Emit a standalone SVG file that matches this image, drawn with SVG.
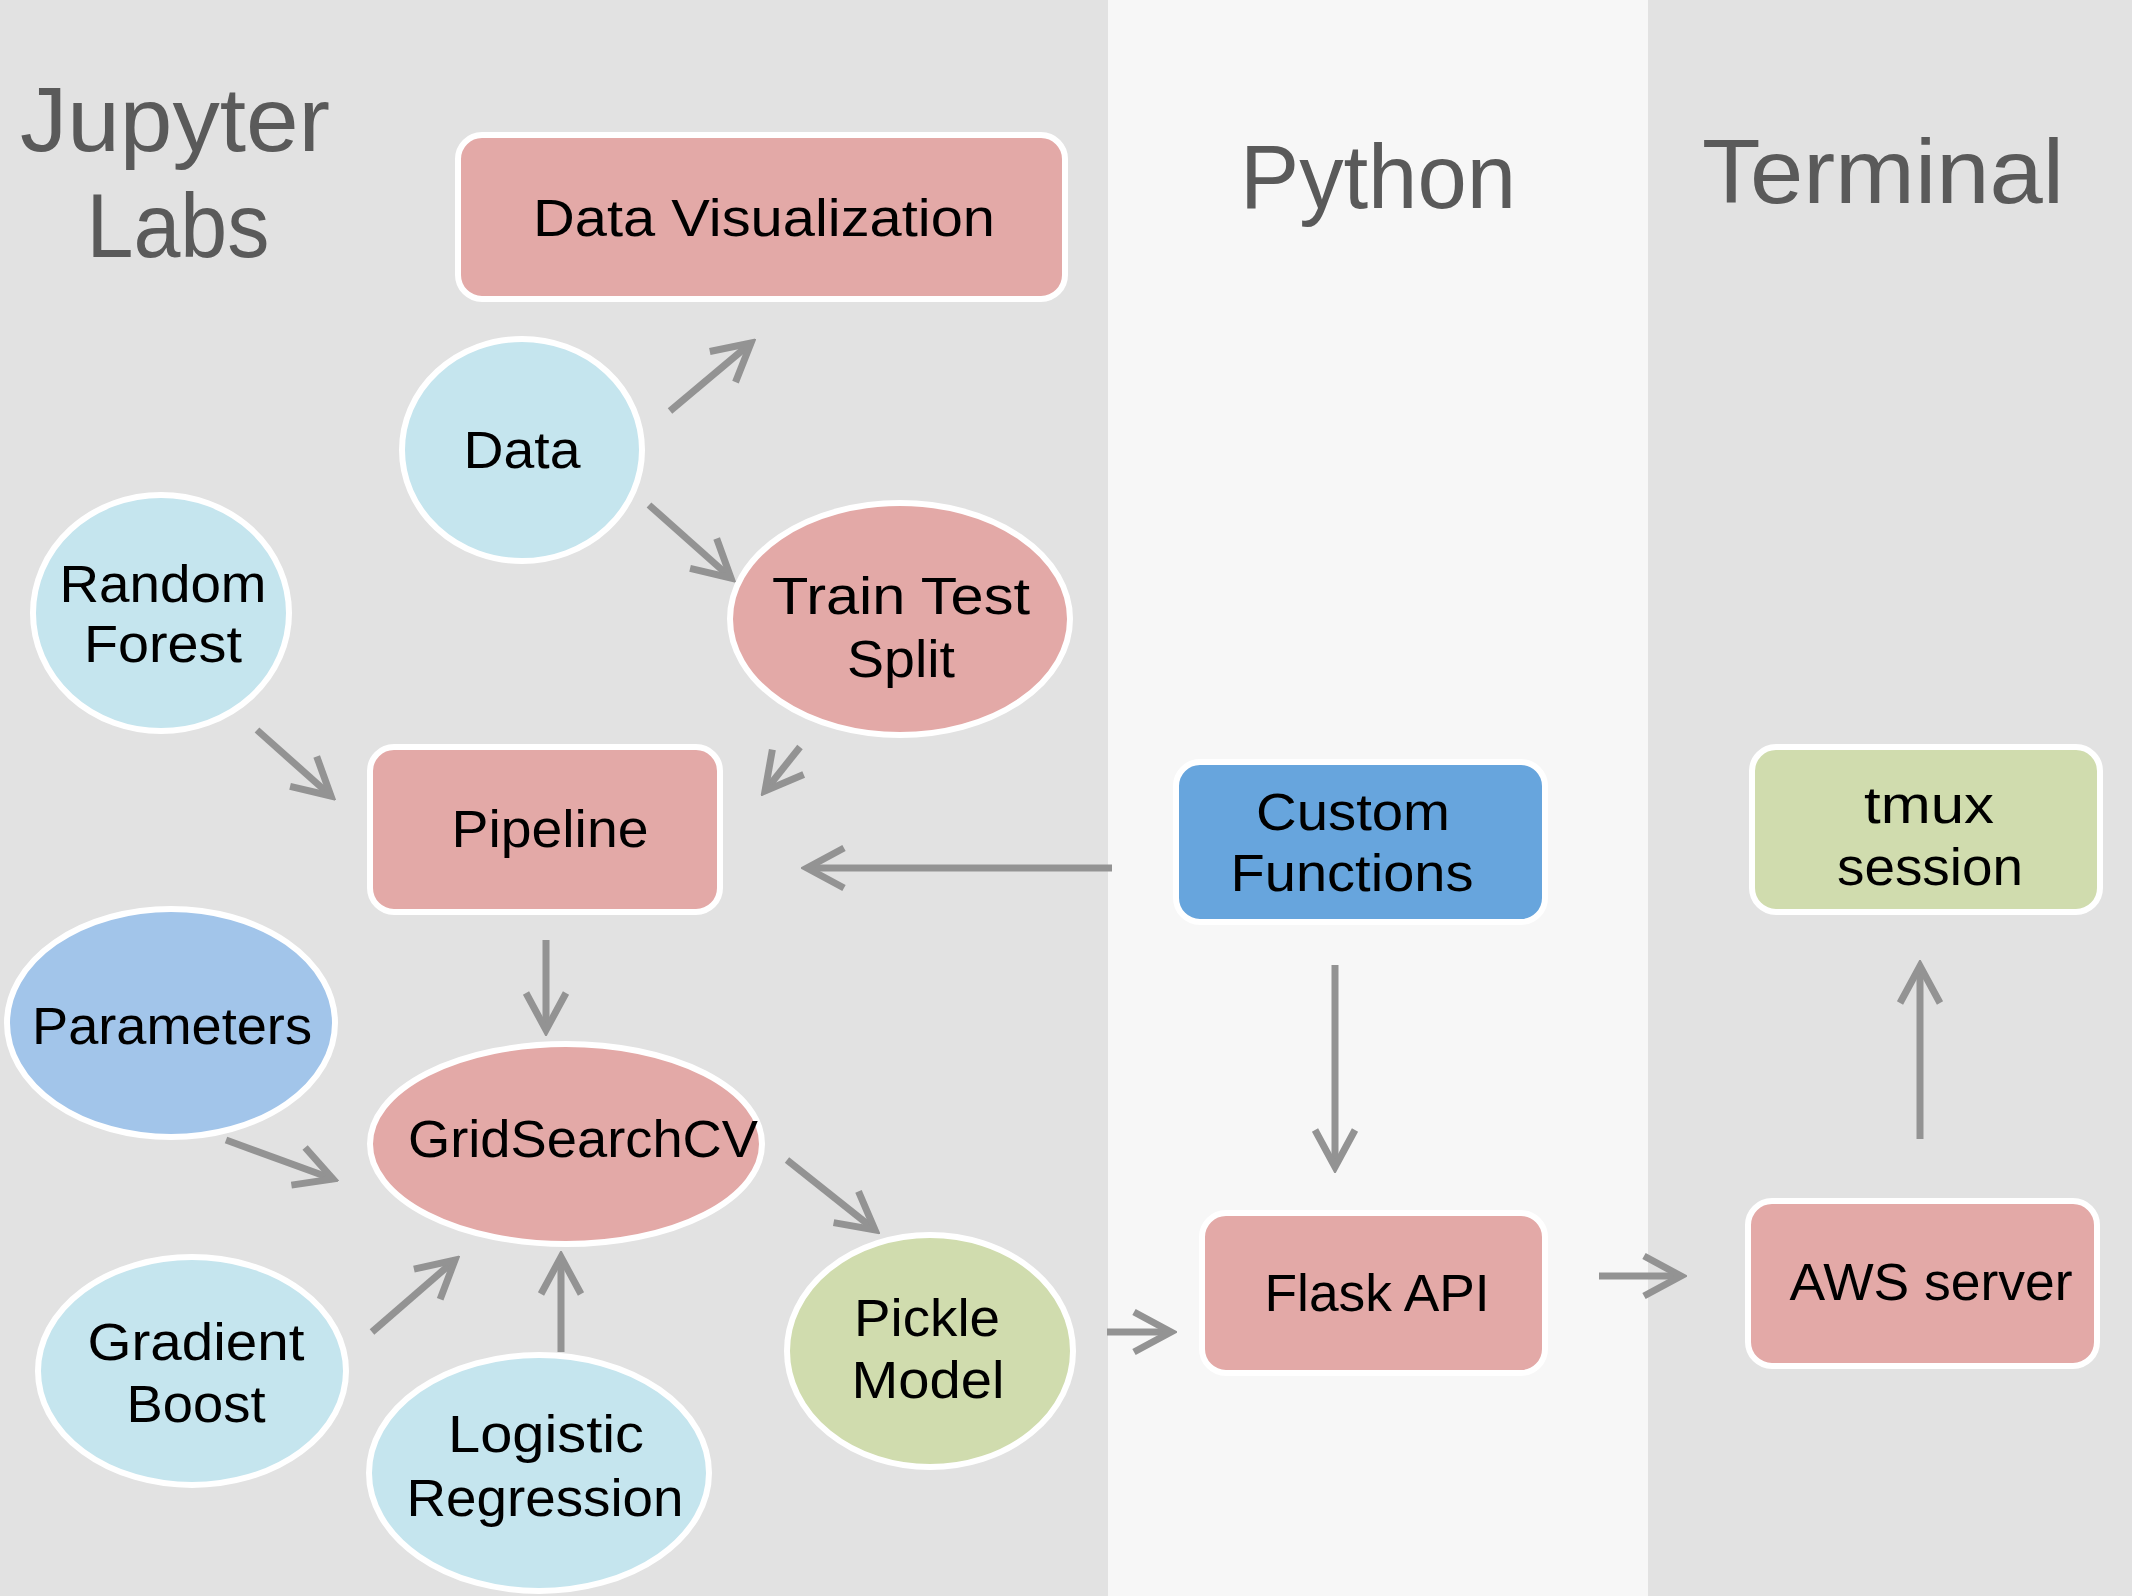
<svg xmlns="http://www.w3.org/2000/svg" width="2132" height="1596" viewBox="0 0 2132 1596">
<style>
.lbl{font-family:"Liberation Sans","Open Sans",Arial,sans-serif;font-size:51px;fill:#000;text-anchor:middle}
.ttl{font-family:"Liberation Sans","Open Sans",Arial,sans-serif;font-size:90px;fill:#5a5a5a;text-anchor:middle}
.node{stroke:#fff;stroke-width:6}
.pink{fill:#e3a9a7}
.lblue{fill:#c5e5ee}
.mblue{fill:#a2c5ea}
.dblue{fill:#67a5dd}
.green{fill:#d0dcae}
.conn line{stroke:#939393;stroke-width:7;marker-end:url(#arr)}
</style>
<defs>
<marker id="arr" markerUnits="userSpaceOnUse" viewBox="-44 -26 50 52" markerWidth="50" markerHeight="52" refX="0" refY="0" orient="auto">
<path d="M-37,-20 L0,0 L-37,20" fill="none" stroke="#939393" stroke-width="7"/>
</marker>
</defs>
<g id="lanes">
<rect x="0" y="0" width="1108" height="1596" fill="#e2e2e2"/>
<rect x="1108" y="0" width="540" height="1596" fill="#f7f7f7"/>
<rect x="1648" y="0" width="484" height="1596" fill="#e2e2e2"/>
<text class="ttl" x="175" y="151" textLength="310" lengthAdjust="spacingAndGlyphs">Jupyter</text>
<text class="ttl" x="178" y="257" textLength="183" lengthAdjust="spacingAndGlyphs">Labs</text>
<text class="ttl" x="1378" y="208" textLength="276" lengthAdjust="spacingAndGlyphs">Python</text>
<text class="ttl" x="1883" y="203" textLength="362" lengthAdjust="spacingAndGlyphs">Terminal</text>
</g>
<g class="conn" id="connectors">
<line x1="670" y1="411" x2="751" y2="343"/>
<line x1="649" y1="505" x2="731" y2="578"/>
<line x1="257" y1="730" x2="331" y2="796"/>
<line x1="800" y1="747" x2="765" y2="791"/>
<line x1="1112" y1="868" x2="807" y2="868"/>
<line x1="546" y1="940" x2="546" y2="1030"/>
<line x1="226" y1="1140" x2="333" y2="1179"/>
<line x1="372" y1="1332" x2="455" y2="1260"/>
<line x1="561" y1="1352" x2="561" y2="1257"/>
<line x1="787" y1="1160" x2="875" y2="1230"/>
<line x1="1107" y1="1332" x2="1171" y2="1332"/>
<line x1="1335" y1="965" x2="1335" y2="1167"/>
<line x1="1599" y1="1276" x2="1681" y2="1276"/>
<line x1="1920" y1="1139" x2="1920" y2="966"/>
</g>
<g id="data-visualization">
<rect class="node pink" x="458" y="135" width="607" height="164" rx="24"/>
<text class="lbl" x="764" y="236" textLength="462" lengthAdjust="spacingAndGlyphs">Data Visualization</text>
</g>
<g id="data">
<ellipse class="node lblue" cx="522" cy="450" rx="120" ry="111"/>
<text class="lbl" x="522" y="468" textLength="117" lengthAdjust="spacingAndGlyphs">Data</text>
</g>
<g id="train-test-split">
<ellipse class="node pink" cx="900" cy="619" rx="170" ry="116"/>
<text class="lbl" x="901" y="614" textLength="258" lengthAdjust="spacingAndGlyphs">Train Test</text>
<text class="lbl" x="901" y="677" textLength="108" lengthAdjust="spacingAndGlyphs">Split</text>
</g>
<g id="random-forest">
<ellipse class="node lblue" cx="161" cy="613" rx="128" ry="118"/>
<text class="lbl" x="163" y="602" textLength="207" lengthAdjust="spacingAndGlyphs">Random</text>
<text class="lbl" x="163" y="662" textLength="158" lengthAdjust="spacingAndGlyphs">Forest</text>
</g>
<g id="pipeline">
<rect class="node pink" x="370" y="747" width="350" height="165" rx="24"/>
<text class="lbl" x="550" y="847" textLength="197" lengthAdjust="spacingAndGlyphs">Pipeline</text>
</g>
<g id="parameters">
<ellipse class="node mblue" cx="171" cy="1023" rx="164" ry="114"/>
<text class="lbl" x="172" y="1044" textLength="280" lengthAdjust="spacingAndGlyphs">Parameters</text>
</g>
<g id="gridsearchcv">
<ellipse class="node pink" cx="566" cy="1144" rx="196" ry="100"/>
<text class="lbl" x="583" y="1157" textLength="350" lengthAdjust="spacingAndGlyphs">GridSearchCV</text>
</g>
<g id="gradient-boost">
<ellipse class="node lblue" cx="192" cy="1371" rx="154" ry="114"/>
<text class="lbl" x="196" y="1360" textLength="217" lengthAdjust="spacingAndGlyphs">Gradient</text>
<text class="lbl" x="196" y="1422" textLength="139" lengthAdjust="spacingAndGlyphs">Boost</text>
</g>
<g id="logistic-regression">
<ellipse class="node lblue" cx="539" cy="1473" rx="170" ry="118"/>
<text class="lbl" x="546" y="1452" textLength="196" lengthAdjust="spacingAndGlyphs">Logistic</text>
<text class="lbl" x="545" y="1516" textLength="277" lengthAdjust="spacingAndGlyphs">Regression</text>
</g>
<g id="pickle-model">
<ellipse class="node green" cx="930" cy="1351" rx="143" ry="116"/>
<text class="lbl" x="927" y="1336" textLength="146" lengthAdjust="spacingAndGlyphs">Pickle</text>
<text class="lbl" x="928" y="1398" textLength="153" lengthAdjust="spacingAndGlyphs">Model</text>
</g>
<g id="custom-functions">
<rect class="node dblue" x="1176" y="762" width="369" height="160" rx="24"/>
<text class="lbl" x="1353" y="830" textLength="194" lengthAdjust="spacingAndGlyphs">Custom</text>
<text class="lbl" x="1352" y="891" textLength="243" lengthAdjust="spacingAndGlyphs">Functions</text>
</g>
<g id="flask-api">
<rect class="node pink" x="1202" y="1213" width="343" height="160" rx="24"/>
<text class="lbl" x="1377" y="1311" textLength="225" lengthAdjust="spacingAndGlyphs">Flask API</text>
</g>
<g id="aws-server">
<rect class="node pink" x="1748" y="1201" width="349" height="165" rx="24"/>
<text class="lbl" x="1931" y="1300" textLength="283" lengthAdjust="spacingAndGlyphs">AWS server</text>
</g>
<g id="tmux-session">
<rect class="node green" x="1752" y="747" width="348" height="165" rx="24"/>
<text class="lbl" x="1929" y="823" textLength="130" lengthAdjust="spacingAndGlyphs">tmux</text>
<text class="lbl" x="1930" y="885" textLength="186" lengthAdjust="spacingAndGlyphs">session</text>
</g>
</svg>
